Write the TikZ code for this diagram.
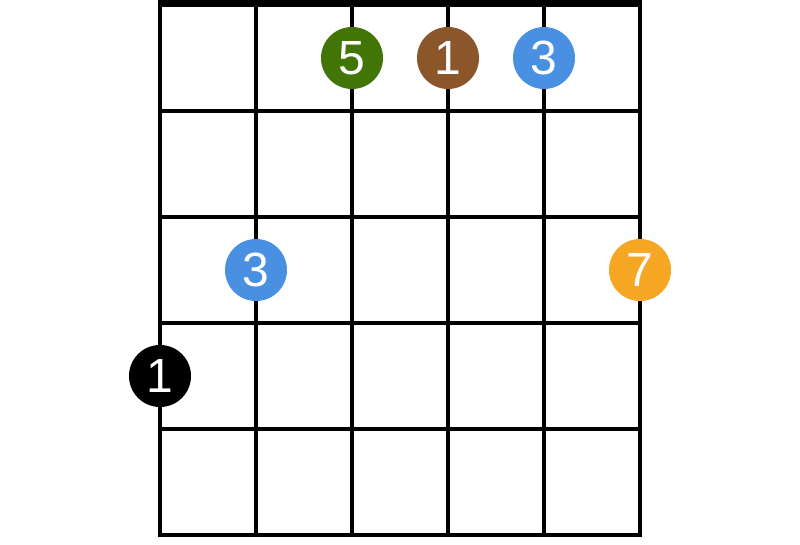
\documentclass[tikz,border=0pt]{standalone}
\usepackage{fontspec}
\setmainfont{Liberation Sans}
\usepackage{tikz}
\usetikzlibrary{arrows}

\definecolor{fingergreen}{HTML}{417505}
\definecolor{fingerbrown}{HTML}{8B572A}
\definecolor{fingerblue}{HTML}{4A90E2}
\definecolor{fingerorange}{HTML}{F5A623}

\tikzset{
  fret/.style={line width=4pt, black},
  finger/.style={circle, minimum size=62pt, inner sep=0pt, text=white,
    font=\fontsize{48}{48}\selectfont}
}

\begin{document}
\begin{tikzpicture}[x=1pt,y=-1pt]
\useasboundingbox (0,0) rectangle (800,545);
\fill [white] (0,0) rectangle (800,545);
% strings
\foreach \s in {160,256,352,448,544,640}
  \draw [fret] (\s,0) -- (\s,537);
% frets
\foreach \f in {111,217,323,429,535}
  \draw [fret] (158,\f) -- (642,\f);
\draw [line width=7pt] (158,3.5) -- (642,3.5);
% fingers
\node [finger, fill=fingergreen] (fiveA) at (352,58) {5};
\node [finger, fill=fingerbrown] (oneA) at (448,58) {1};
\node [finger, fill=fingerblue] (threeA) at (544,58) {3};
\node [finger, fill=fingerblue] (threeB) at (256,270) {3};
\node [finger, fill=fingerorange] (sevenA) at (640,270) {7};
\node [finger, fill=black] (oneB) at (160,376) {1};
\end{tikzpicture}
\end{document}
